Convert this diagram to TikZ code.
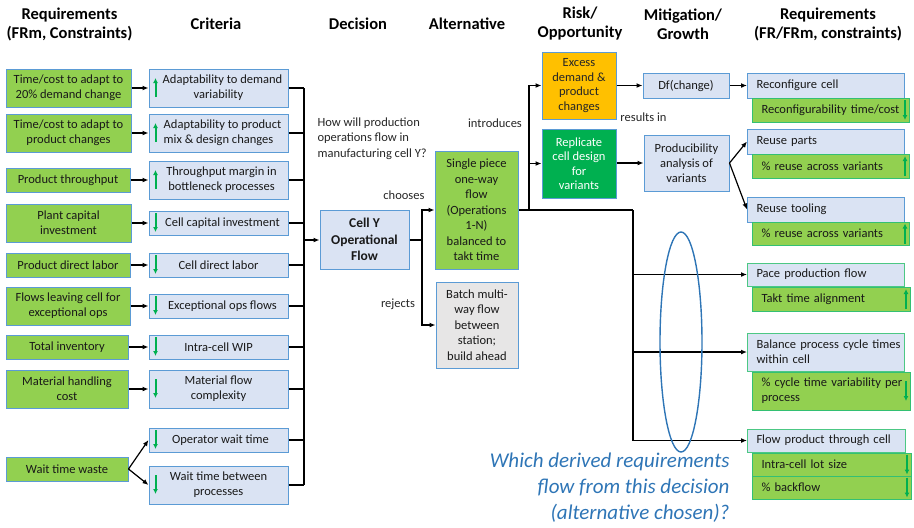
\documentclass[tikz,border=0pt]{standalone}
\usepackage{fontspec}
\setmainfont{Carlito}
\usetikzlibrary{arrows.meta,calc}
\definecolor{gfill}{HTML}{92D050}
\definecolor{bfill}{HTML}{DAE3F3}
\definecolor{bline}{HTML}{5B9BD5}
\definecolor{gline}{HTML}{00B050}
\definecolor{dgreen}{HTML}{00B050}
\definecolor{ofill}{HTML}{FFC000}
\definecolor{grayfill}{HTML}{E7E6E6}
\definecolor{qblue}{HTML}{2E75B6}
\tikzset{
  base/.style={draw, line width=1pt, inner sep=0pt, align=center, font=\fontsize{12.5}{15}\selectfont, text=black!90},
  reqbox/.style={base, fill=gfill, draw=bline},
  critbox/.style={base, fill=bfill, draw=bline},
  rbox/.style={base, fill=bfill, draw=bline, align=left, anchor=west, inner xsep=9pt},
  rboxg/.style={base, fill=bfill, draw=gline!70, align=left, anchor=west, inner xsep=9pt},
  subbox/.style={base, fill=gfill, draw=gline!80, align=left, anchor=west, inner xsep=9pt},
  head/.style={font=\fontsize{16.5}{19}\selectfont\bfseries, align=center, text=black},
  lbl/.style={font=\fontsize{12.5}{15.5}\selectfont, text=black!85},
  conn/.style={line width=1.2pt, -{Latex[length=6pt,width=5pt]}},
  plain/.style={line width=1.2pt},
  garrow/.style={line width=2pt, draw=dgreen, -{Latex[length=5pt,width=5pt]}},
}
\begin{document}
\begin{tikzpicture}[x=1pt,y=-1pt]
\useasboundingbox (0,0) rectangle (914,528);
% headers
\node[head] (h1) at (69.5,24) {Requirements\\(FRm, Constraints)};
\node[head] (h2) at (216,24) {Criteria};
\node[head] (h3) at (358,24) {Decision};
\node[head] (h4) at (467,24) {Alternative};
\node[head] (h5) at (580,24) {Risk/\\Opportunity};
\node[head] (h6) at (683,24) {Mitigation/\\Growth};
\node[head] (h7) at (828,24) {Requirements\\(FR/FRm, constraints)};

% left requirement boxes
\node[reqbox, minimum width=125, minimum height=38] (r1) at (68.5,88) {Time/cost to adapt to\\20\% demand change};
\node[reqbox, minimum width=125, minimum height=38] (r2) at (68.5,133) {Time/cost to adapt to\\product changes};
\node[reqbox, minimum width=124, minimum height=24] (r3) at (68,180) {Product throughput};
\node[reqbox, minimum width=125, minimum height=38] (r4) at (68.5,223) {Plant capital\\investment};
\node[reqbox, minimum width=124, minimum height=24] (r5) at (68,265) {Product direct labor};
\node[reqbox, minimum width=124, minimum height=38] (r6) at (68,306) {Flows leaving cell for\\exceptional ops};
\node[reqbox, minimum width=122, minimum height=24] (r7) at (67,347) {Total inventory};
\node[reqbox, minimum width=122, minimum height=38] (r8) at (67,389) {Material handling\\cost};
\node[reqbox, minimum width=122, minimum height=24] (r9) at (67,469) {Wait time waste};

% criteria boxes
\node[critbox, minimum width=139, minimum height=38] (c1) at (218.5,88) {\hspace*{8pt}Adaptability to demand\\variability};
\node[critbox, minimum width=139, minimum height=38] (c2) at (218.5,133) {\hspace*{8pt}Adaptability to product\\mix \& design changes};
\node[critbox, minimum width=139, minimum height=38] (c3) at (218.5,180) {\hspace*{6pt}Throughput margin in\\\hspace*{6pt}bottleneck processes};
\node[critbox, minimum width=139, minimum height=24] (c4) at (218.5,223) {\hspace*{8pt}Cell capital investment};
\node[critbox, minimum width=139, minimum height=24] (c5) at (218.5,265) {Cell direct labor};
\node[critbox, minimum width=139, minimum height=24] (c6) at (218.5,306) {\hspace*{8pt}Exceptional ops flows};
\node[critbox, minimum width=139, minimum height=24] (c7) at (218.5,347) {Intra-cell WIP};
\node[critbox, minimum width=139, minimum height=38] (c8) at (218.5,389) {Material flow\\complexity};
\node[critbox, minimum width=139, minimum height=24] (c9) at (218.5,440) {\hspace*{4pt}Operator wait time};
\node[critbox, minimum width=139, minimum height=38] (c10) at (218.5,485) {Wait time between\\processes};

% green arrows in criteria
\foreach \n/\d in {c1/u,c2/u,c3/u,c4/d,c5/d,c6/d,c7/d,c8/d,c9/d,c10/d}{
  \if u\d
    \draw[garrow] ($(\n.west)+(7,9)$) -- ($(\n.west)+(7,-10)$);
  \else
    \draw[garrow] ($(\n.west)+(7,-10)$) -- ($(\n.west)+(7,9)$);
  \fi
}

% req -> criteria
\foreach \i in {1,...,8}{\draw[conn] (r\i.east) -- (c\i.west);}
\draw[conn] (r9.east) -- (c9.west);
\draw[conn] (r9.east) -- (c10.west);

% bus
\coordinate (bt) at (304,88);
\coordinate (bb) at (304,485);
\draw[plain] (bt) -- (bb);
\foreach \i in {1,...,10}{\draw[plain] (c\i.east) -- (c\i.east -| bt);}

% decision
\node[critbox, font=\fontsize{13.5}{16.5}\selectfont\bfseries, minimum width=89, minimum height=59] (cy) at (364.5,239.5) {Cell Y\\Operational\\Flow};
\coordinate (bm) at (304,240);
\draw[conn] (bm) -- (cy.west |- bm);

\node[lbl, align=left, anchor=north west] (q) at (314,114) {How will production\\operations flow in\\manufacturing cell Y?};

% alternatives
\node[base, fill=gfill, draw=bline, minimum width=83, minimum height=118, font=\fontsize{12.5}{15.5}\selectfont] (alt1) at (476.5,210) {Single piece\\one-way\\flow\\(Operations\\1-N)\\balanced to\\takt time};
\node[base, fill=grayfill, draw=bline, minimum width=82, minimum height=86, font=\fontsize{12.5}{15.5}\selectfont] (alt2) at (477,325) {Batch multi-\\way flow\\between\\station;\\build ahead};
\coordinate (jd) at (422,240);
\draw[plain] (cy.east |- jd) -- (jd);
\draw[conn] (jd) |- (alt1.west);
\draw[conn] (jd) |- (alt2.west);
\node[lbl, anchor=east] (lch) at (428,195) {chooses};
\node[lbl] (lrj) at (398,304) {rejects};

% risk/opportunity
\node[base, fill=ofill, draw=bline, minimum width=74, minimum height=67, font=\fontsize{12.5}{14.5}\selectfont, text=black!85] (ex) at (579,85.5) {Excess\\demand \&\\product\\changes};
\node[base, fill=dgreen, draw=bline, minimum width=74, minimum height=69, font=\fontsize{12.5}{14.5}\selectfont, text=white] (rep) at (579,163.5) {Replicate\\cell design\\for\\variants};
\coordinate (ja) at (529,210);
\coordinate (jb) at (633,210);
\draw[plain] (alt1.east) -- (jb);
\draw[conn] (ja) |- (ex.west);
\draw[conn] (ja |- rep.west) -- (rep.west);
\node[lbl] (lin) at (495,123) {introduces};

% mitigation
\node[critbox, minimum width=86, minimum height=25] (df) at (686,85.5) {Df(change)};
\node[critbox, minimum width=85, minimum height=56, font=\fontsize{12.5}{15}\selectfont] (pa) at (686.5,163) {Producibility\\analysis of\\variants};
\draw[conn] (ex.east |- df) -- (df.west);
\draw[conn] (rep.east |- pa) -- (pa.west);
\node[lbl] (lres) at (643.5,117) {results in};

% right requirements
\node[rbox, minimum width=157, minimum height=25, text width=139] (rc) at (747,85.5) {Reconfigure cell};
\node[subbox, minimum width=157, minimum height=24, text width=139] (rct) at (752,110) {\mbox{Reconfigurability time/cost}};
\node[rbox, minimum width=157, minimum height=25, text width=139] (rp) at (747,141.5) {Reuse parts};
\node[subbox, minimum width=157, minimum height=24, text width=139] (rpv) at (752,166) {\% reuse across variants};
\node[rbox, minimum width=157, minimum height=25, text width=139] (rt) at (747,209.5) {Reuse tooling};
\node[subbox, minimum width=157, minimum height=23, text width=139] (rtv) at (752,233.5) {\% reuse across variants};
\node[rboxg, minimum width=157, minimum height=23, text width=139] (pp) at (747,274.5) {Pace production flow};
\node[subbox, minimum width=158, minimum height=24, text width=140] (tt) at (752,299) {Takt time alignment};
\node[rboxg, minimum width=157, minimum height=38, text width=139, font=\fontsize{12.5}{15}\selectfont] (bp) at (747,352) {\mbox{Balance process cycle times}\\within cell};
\node[subbox, minimum width=158, minimum height=38, text width=140, font=\fontsize{12.5}{15}\selectfont] (cv) at (752,391) {\mbox{\% cycle time variability per}\\process};
\node[rboxg, minimum width=158, minimum height=23, text width=140] (fp) at (747,440.5) {Flow product through cell};
\node[subbox, minimum width=159, minimum height=23, text width=141] (ls) at (752,464.5) {Intra-cell lot size};
\node[subbox, minimum width=159, minimum height=23, text width=141] (bf) at (752,487.5) {\% backflow};

% arrows into right boxes
\draw[conn] (df.east) -- (rc.west);
\draw[conn] (pa.east) -- (rp.west);
\draw[conn] (pa.east) -- (rt.west);
\draw[plain] (jb) -- (jb |- fp.west);
\draw[conn] (jb |- pp.west) -- (pp.west);
\draw[conn] (jb |- bp.west) -- (bp.west);
\draw[conn] (jb |- fp.west) -- (fp.west);

% green arrows in sub boxes
\foreach \n/\d in {rct/d,rpv/u,rtv/u,tt/u,cv/d,ls/d,bf/d}{
  \if u\d
    \draw[garrow] ($(\n.east)+(-5,10)$) -- ($(\n.east)+(-5,-10)$);
  \else
    \draw[garrow] ($(\n.east)+(-5,-10)$) -- ($(\n.east)+(-5,10)$);
  \fi
}

% ellipse
\draw[qblue, line width=1.4pt] (681,342) ellipse [x radius=21, y radius=110];
\node[font=\fontsize{21}{26}\selectfont\itshape, text=qblue, align=right, anchor=north east] (qq) at (733,449) {Which derived requirements\\flow from this decision\\(alternative chosen)?};
\end{tikzpicture}
\end{document}
